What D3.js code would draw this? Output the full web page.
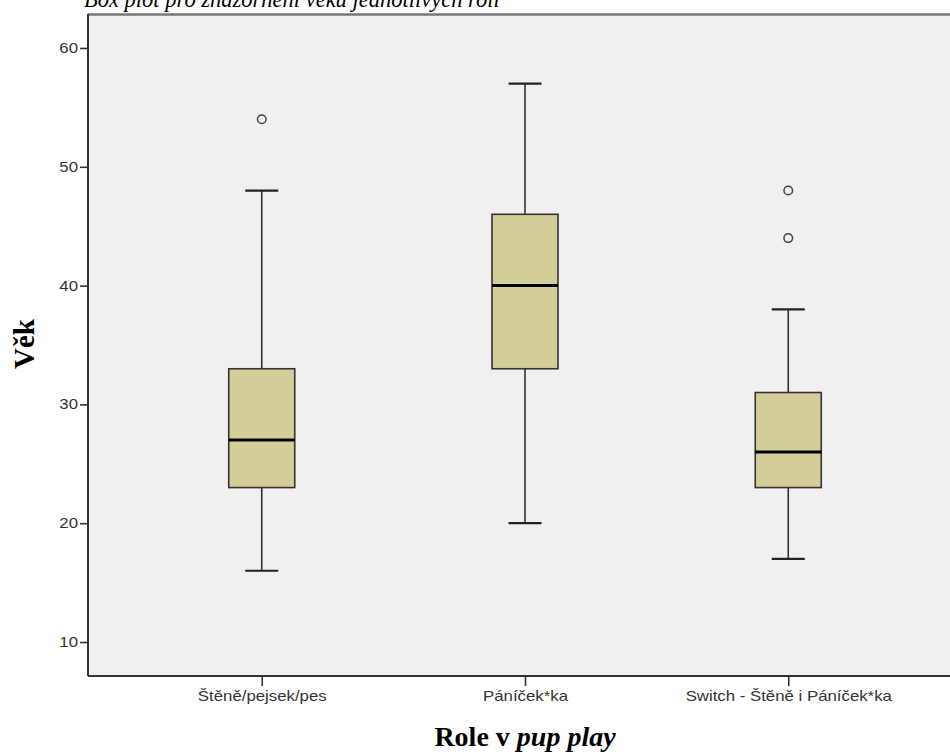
<!DOCTYPE html>
<html><head><meta charset="utf-8">
<script src="https://cdn.jsdelivr.net/npm/d3@7/dist/d3.min.js"></script>
<style>body{margin:0;background:#fff}svg{display:block}</style>
</head><body>
<svg id="c" width="950" height="756"></svg>
<script>
const categories = ["Štěně/pejsek/pes", "Páníček*ka", "Switch - Štěně i Páníček*ka"];
const whiskerLow = [16, 20, 17];
const q1 = [23, 33, 23];
const median = [27, 40, 26];
const q3 = [33, 46, 31];
const whiskerHigh = [48, 57, 38];
const outliers = [[54], [], [48, 44]];
const yTicks = [10, 20, 30, 40, 50, 60];
const title = "Box plot pro znázornění věku jednotlivých rolí";

const svg = d3.select("#c");
const pL = 88, pT = 14, pR = 962, pB = 676;

const y = d3.scaleLinear().domain([7.14, 62.86]).range([pB, pT]);
const x = d3.scalePoint().domain(categories).range([pL, pR]).padding(0.66);

// title (cut off at top)
svg.append("text").attr("x", 84).attr("y", 7)
  .attr("font-family", "Liberation Serif, Times New Roman, serif")
  .attr("font-style", "italic").attr("font-size", 22.5).attr("fill", "#000")
  .text(title);

// plot background
svg.append("rect").attr("x", pL).attr("y", pT).attr("width", pR - pL).attr("height", pB - pT)
  .attr("fill", "#f0f0f0");
svg.append("line").attr("x1", pL).attr("x2", 950).attr("y1", pT + 0.5).attr("y2", pT + 0.5)
  .attr("stroke", "#777").attr("stroke-width", 2.5);

const data = categories.map((c, i) => ({c, lo: whiskerLow[i], q1: q1[i], med: median[i], q3: q3[i], hi: whiskerHigh[i], out: outliers[i]}));
const bw = 66, cw = 33;
const g = svg.append("g").selectAll("g").data(data).join("g");
g.append("line").attr("x1", d => x(d.c)).attr("x2", d => x(d.c))
  .attr("y1", d => y(d.lo)).attr("y2", d => y(d.hi)).attr("stroke", "#333").attr("stroke-width", 1.6);
g.append("line").attr("x1", d => x(d.c) - cw / 2).attr("x2", d => x(d.c) + cw / 2)
  .attr("y1", d => y(d.lo)).attr("y2", d => y(d.lo)).attr("stroke", "#222").attr("stroke-width", 2.2);
g.append("line").attr("x1", d => x(d.c) - cw / 2).attr("x2", d => x(d.c) + cw / 2)
  .attr("y1", d => y(d.hi)).attr("y2", d => y(d.hi)).attr("stroke", "#222").attr("stroke-width", 2.2);
g.append("rect").attr("x", d => x(d.c) - bw / 2).attr("width", bw)
  .attr("y", d => y(d.q3)).attr("height", d => y(d.q1) - y(d.q3))
  .attr("fill", "#d3ce97").attr("stroke", "#333").attr("stroke-width", 1.6);
g.append("line").attr("x1", d => x(d.c) - bw / 2).attr("x2", d => x(d.c) + bw / 2)
  .attr("y1", d => y(d.med)).attr("y2", d => y(d.med)).attr("stroke", "#000").attr("stroke-width", 3);
g.selectAll("circle").data(d => d.out.map(v => ({c: d.c, v}))).join("circle")
  .attr("cx", d => x(d.c)).attr("cy", d => y(d.v)).attr("r", 4.3)
  .attr("fill", "none").attr("stroke", "#444").attr("stroke-width", 1.5);

// axes
const yAxis = svg.append("g").attr("transform", `translate(${pL},0)`)
  .call(d3.axisLeft(y).tickValues(yTicks).tickSize(8).tickPadding(2).tickSizeOuter(0));
const xAxis = svg.append("g").attr("transform", `translate(0,${pB})`)
  .call(d3.axisBottom(x).tickSize(10).tickPadding(5).tickSizeOuter(0));
[yAxis, xAxis].forEach(a => {
  a.select(".domain").attr("stroke", "#333").attr("stroke-width", 2);
  a.selectAll(".tick line").attr("stroke", "#333").attr("stroke-width", 1.6);
  a.selectAll("text").attr("font-family", "Liberation Sans, Arial, sans-serif")
    .attr("font-size", 14).attr("fill", "#333");
});
xAxis.selectAll(".tick text").attr("transform", "scale(1.2,1)");
yAxis.selectAll(".tick text").attr("x", -10 / 1.2).attr("transform", "scale(1.2,1)");
yAxis.select(".domain").attr("d", `M0,${pT}V${pB}`);
xAxis.select(".domain").attr("d", `M${pL},0H950`);

// axis titles
svg.append("text").attr("transform", `translate(34,344) rotate(-90)`).attr("text-anchor", "middle")
  .attr("font-family", "Liberation Serif, Times New Roman, serif").attr("font-weight", "bold")
  .attr("font-size", 29).text("Věk");
const xt = svg.append("text").attr("x", 525).attr("y", 746).attr("text-anchor", "middle")
  .attr("font-family", "Liberation Serif, Times New Roman, serif").attr("font-weight", "bold")
  .attr("font-size", 28);
xt.append("tspan").text("Role v ");
xt.append("tspan").attr("font-style", "italic").text("pup play");
</script>
</body></html>
